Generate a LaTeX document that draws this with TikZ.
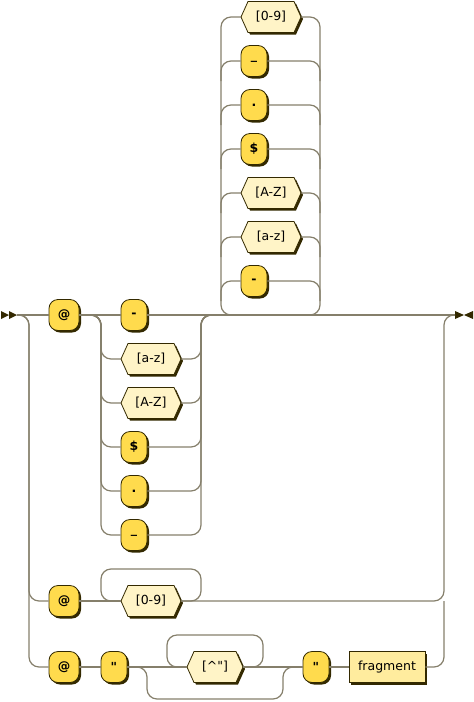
\documentclass[tikz,border=0pt]{standalone}
\usepackage{fontspec}
\newfontfamily\rrfont{DejaVu Sans}
\usetikzlibrary{shadows}
\definecolor{ink}{HTML}{332900}
\definecolor{tfill}{HTML}{FFDB4D}
\definecolor{nfill}{HTML}{FFEC9E}
\definecolor{rfill}{HTML}{FFF4C7}
\definecolor{railc}{HTML}{857F6B}
\newcommand\hexnode[5]{%
  \path[fill=ink] ({#2-#4/2+2},{#3+2}) -- ++(7,-15.5) -- ++({#4-14},0) -- ++(7,15.5) -- ++(-7,15.5) -- ++({14-#4},0) -- cycle;
  \path[fill=rfill,draw=ink,line width=0.8pt] ({#2-#4/2},{#3}) -- ++(7,-15.5) -- ++({#4-14},0) -- ++(7,15.5) -- ++(-7,15.5) -- ++({14-#4},0) -- cycle;
  \node[hexn,minimum width=#4] (#1) at (#2,#3) {#5};}
\begin{document}
\begin{tikzpicture}[x=1pt,y=-1pt,
  rail/.style={draw=railc,line width=1.2pt,rounded corners=10pt},
  shad/.style={drop shadow={shadow xshift=2pt,shadow yshift=-2pt,opacity=1,fill=ink}},
  txt/.style={font=\rrfont\fontsize{12.5}{14}\selectfont,text=black},
  term/.style={txt,font=\rrfont\bfseries\fontsize{12.5}{14}\selectfont,draw=ink,fill=tfill,line width=0.8pt,rounded corners=9pt,minimum height=31pt,minimum width=26pt,inner sep=0pt,shad},
  nterm/.style={txt,draw=ink,fill=nfill,line width=0.8pt,minimum height=31pt,inner sep=0pt,shad},
  hexn/.style={txt,inner sep=0pt,minimum height=31pt}]
\useasboundingbox (0,0) rectangle (474,702);
% start / end markers
\fill[ink] (1,311) -- (9,315) -- (1,319) -- cycle;
\fill[ink] (9,311) -- (17,315) -- (9,319) -- cycle;
\fill[ink] (455,311) -- (464,315) -- (455,319) -- cycle;
\fill[ink] (473,311) -- (464,315) -- (473,319) -- cycle;
\coordinate (s) at (17,315);
\coordinate (e) at (455,315);
\coordinate (c1s) at (91,315);
\coordinate (c1e) at (211,315);
\coordinate (l1) at (231,315);
\coordinate (l2) at (310,315);
% row 1
\node[term,minimum width=30pt] (at1) at (64,315) {@};
\node[term] (m1) at (134,315) {-};
\hexnode{az1}{151}{359}{60}{[a-z]}
\hexnode{AZ1}{151}{403}{60}{[A-Z]}
\node[term] (dol1) at (134,447) {\$};
\node[term] (dot1) at (134,491) {.};
\node[term] (und1) at (134,535) {\_};
% loop
\hexnode{n09a}{271}{17}{60}{[0-9]}
\node[term] (und2) at (254,61) {\_};
\node[term] (dot2) at (254,105) {.};
\node[term] (dol2) at (254,149) {\$};
\hexnode{AZ2}{271}{193}{60}{[A-Z]}
\hexnode{az2}{271}{237}{60}{[a-z]}
\node[term] (m2) at (254,281) {-};
% row 2
\node[term,minimum width=30pt] (at2) at (64,601) {@};
\hexnode{n09b}{151}{601}{60}{[0-9]}
% row 3
\node[term,minimum width=30pt] (at3) at (64,667) {@};
\node[term] (q1) at (114,667) {"};
\hexnode{hq}{215}{667}{56}{[\textasciicircum"]}
\node[term] (q2) at (316,667) {"};
\node[nterm,minimum width=76pt] (frag) at (387,667) {fragment};
% rails: entry
\draw[rail] (s) -- (at1.west);
\draw[rail] (s) -- (29,315) -- (29,601) -- (at2.west);
\draw[rail] (s) -- (29,315) -- (29,667) -- (at3.west);
% choice 1
\draw[rail] (at1.east) -- (m1.west);
\draw[rail] (m1.east) -- (e);
\foreach \n/\yy in {az1/359,AZ1/403,dol1/447,dot1/491,und1/535}{
  \draw[rail] (c1s) -- (101,315) -- (101,\yy) -- (\n.west);
  \draw[rail] (\n.east) -- (201,\yy) -- (201,315) -- (c1e);
}
% loop above
\draw[rail] (l1) -- (221,315) -- (221,17) -- (n09a.west);
\draw[rail] (n09a.east) -- (320,17) -- (320,315) -- (l2);
\foreach \n/\yy in {und2/61,dot2/105,dol2/149,AZ2/193,az2/237,m2/281}{
  \draw[rail] (221,\yy+20) -- (221,\yy) -- (\n.west);
  \draw[rail] (\n.east) -- (320,\yy) -- (320,\yy+20);
}
% row 2
\draw[rail] (at2.east) -- (n09b.west);
\draw[rail] (n09b.west) -- (101,601) -- (101,569) -- (201,569) -- (201,601) -- (n09b.east);
\draw[rail] (n09b.east) -- (444,601) -- (444,315) -- (e);
% row 3
\draw[rail] (at3.east) -- (q1.west);
\draw[rail] (q1.east) -- (hq.west);
\draw[rail] (q1.east) -- (147,667) -- (147,699) -- (283,699) -- (283,667) -- (q2.west);
\draw[rail] (hq.west) -- (167,667) -- (167,635) -- (263,635) -- (263,667) -- (hq.east);
\draw[rail] (hq.east) -- (q2.west);
\draw[rail] (q2.east) -- (frag.west);
\draw[rail] (frag.east) -- (444,667) -- (444,601);
\end{tikzpicture}
\end{document}
